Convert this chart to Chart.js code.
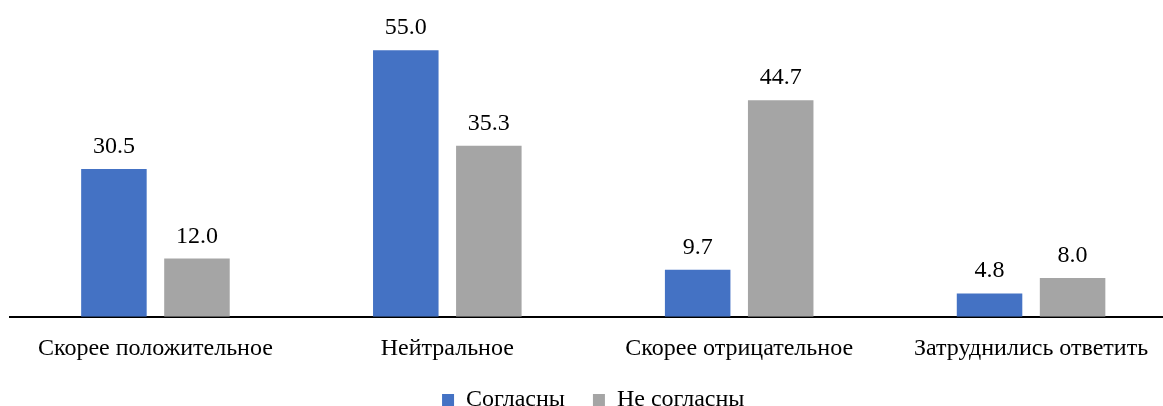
<!DOCTYPE html>
<html><head><meta charset="utf-8">
<script src="https://cdn.jsdelivr.net/npm/chart.js@4/dist/chart.umd.min.js"></script>
<style>
html,body{margin:0;padding:0;background:#fff;overflow:hidden;width:1163px;height:406px;}
#wrap{width:1177px;height:422px;position:relative;}
</style></head>
<body><div id="wrap"><canvas id="c"></canvas></div>
<script>
const categories = ["Скорее положительное", "Нейтральное", "Скорее отрицательное", "Затруднились ответить"];
const agree = [30.5, 55.0, 9.7, 4.8];
const disagree = [12.0, 35.3, 44.7, 8.0];
const seriesNames = ["Согласны", "Не согласны"];

const FONT = "'Liberation Serif', 'Times New Roman', serif";

const labelPlugin = {
  id: 'valueLabels',
  afterDatasetsDraw(chart) {
    const ctx = chart.ctx;
    ctx.save();
    ctx.font = "24px " + FONT;
    ctx.fillStyle = "#000";
    ctx.textAlign = "center";
    ctx.textBaseline = "alphabetic";
    chart.data.datasets.forEach((ds, di) => {
      const meta = chart.getDatasetMeta(di);
      meta.data.forEach((bar, i) => {
        ctx.fillText(ds.data[i].toFixed(1), bar.x, bar.y - 16);
      });
    });
    ctx.restore();
  }
};

function build() {
  new Chart(document.getElementById('c'), {
    type: 'bar',
    data: {
      labels: categories,
      datasets: [
        { label: seriesNames[0], data: agree, backgroundColor: '#4472C4', categoryPercentage: 0.569, barPercentage: 0.789 },
        { label: seriesNames[1], data: disagree, backgroundColor: '#A5A5A5', categoryPercentage: 0.569, barPercentage: 0.789 }
      ]
    },
    options: {
      responsive: true,
      maintainAspectRatio: false,
      animation: false,
      layout: { padding: { left: 9.5, right: 0, top: 26, bottom: 0 } },
      plugins: {
        legend: {
          position: 'bottom',
          labels: { boxWidth: 12, boxHeight: 12, color: '#000', font: { family: FONT, size: 24 }, padding: 28 }
        },
        tooltip: { enabled: false }
      },
      scales: {
        x: {
          grid: { display: false, drawTicks: false },
          border: { display: true, color: '#000', width: 2 },
          ticks: { color: '#000', font: { family: FONT, size: 24 }, padding: 17.5, maxRotation: 0, autoSkip: false },
          afterFit(scale) { scale.height -= 20.5; }
        },
        y: { display: false, min: 0, max: 60 }
      }
    },
    plugins: [labelPlugin]
  });
}
if (document.fonts && document.fonts.load) {
  document.fonts.load("24px 'Liberation Serif'", "Скорее 0123").then(build, build);
} else { build(); }
</script></body></html>
